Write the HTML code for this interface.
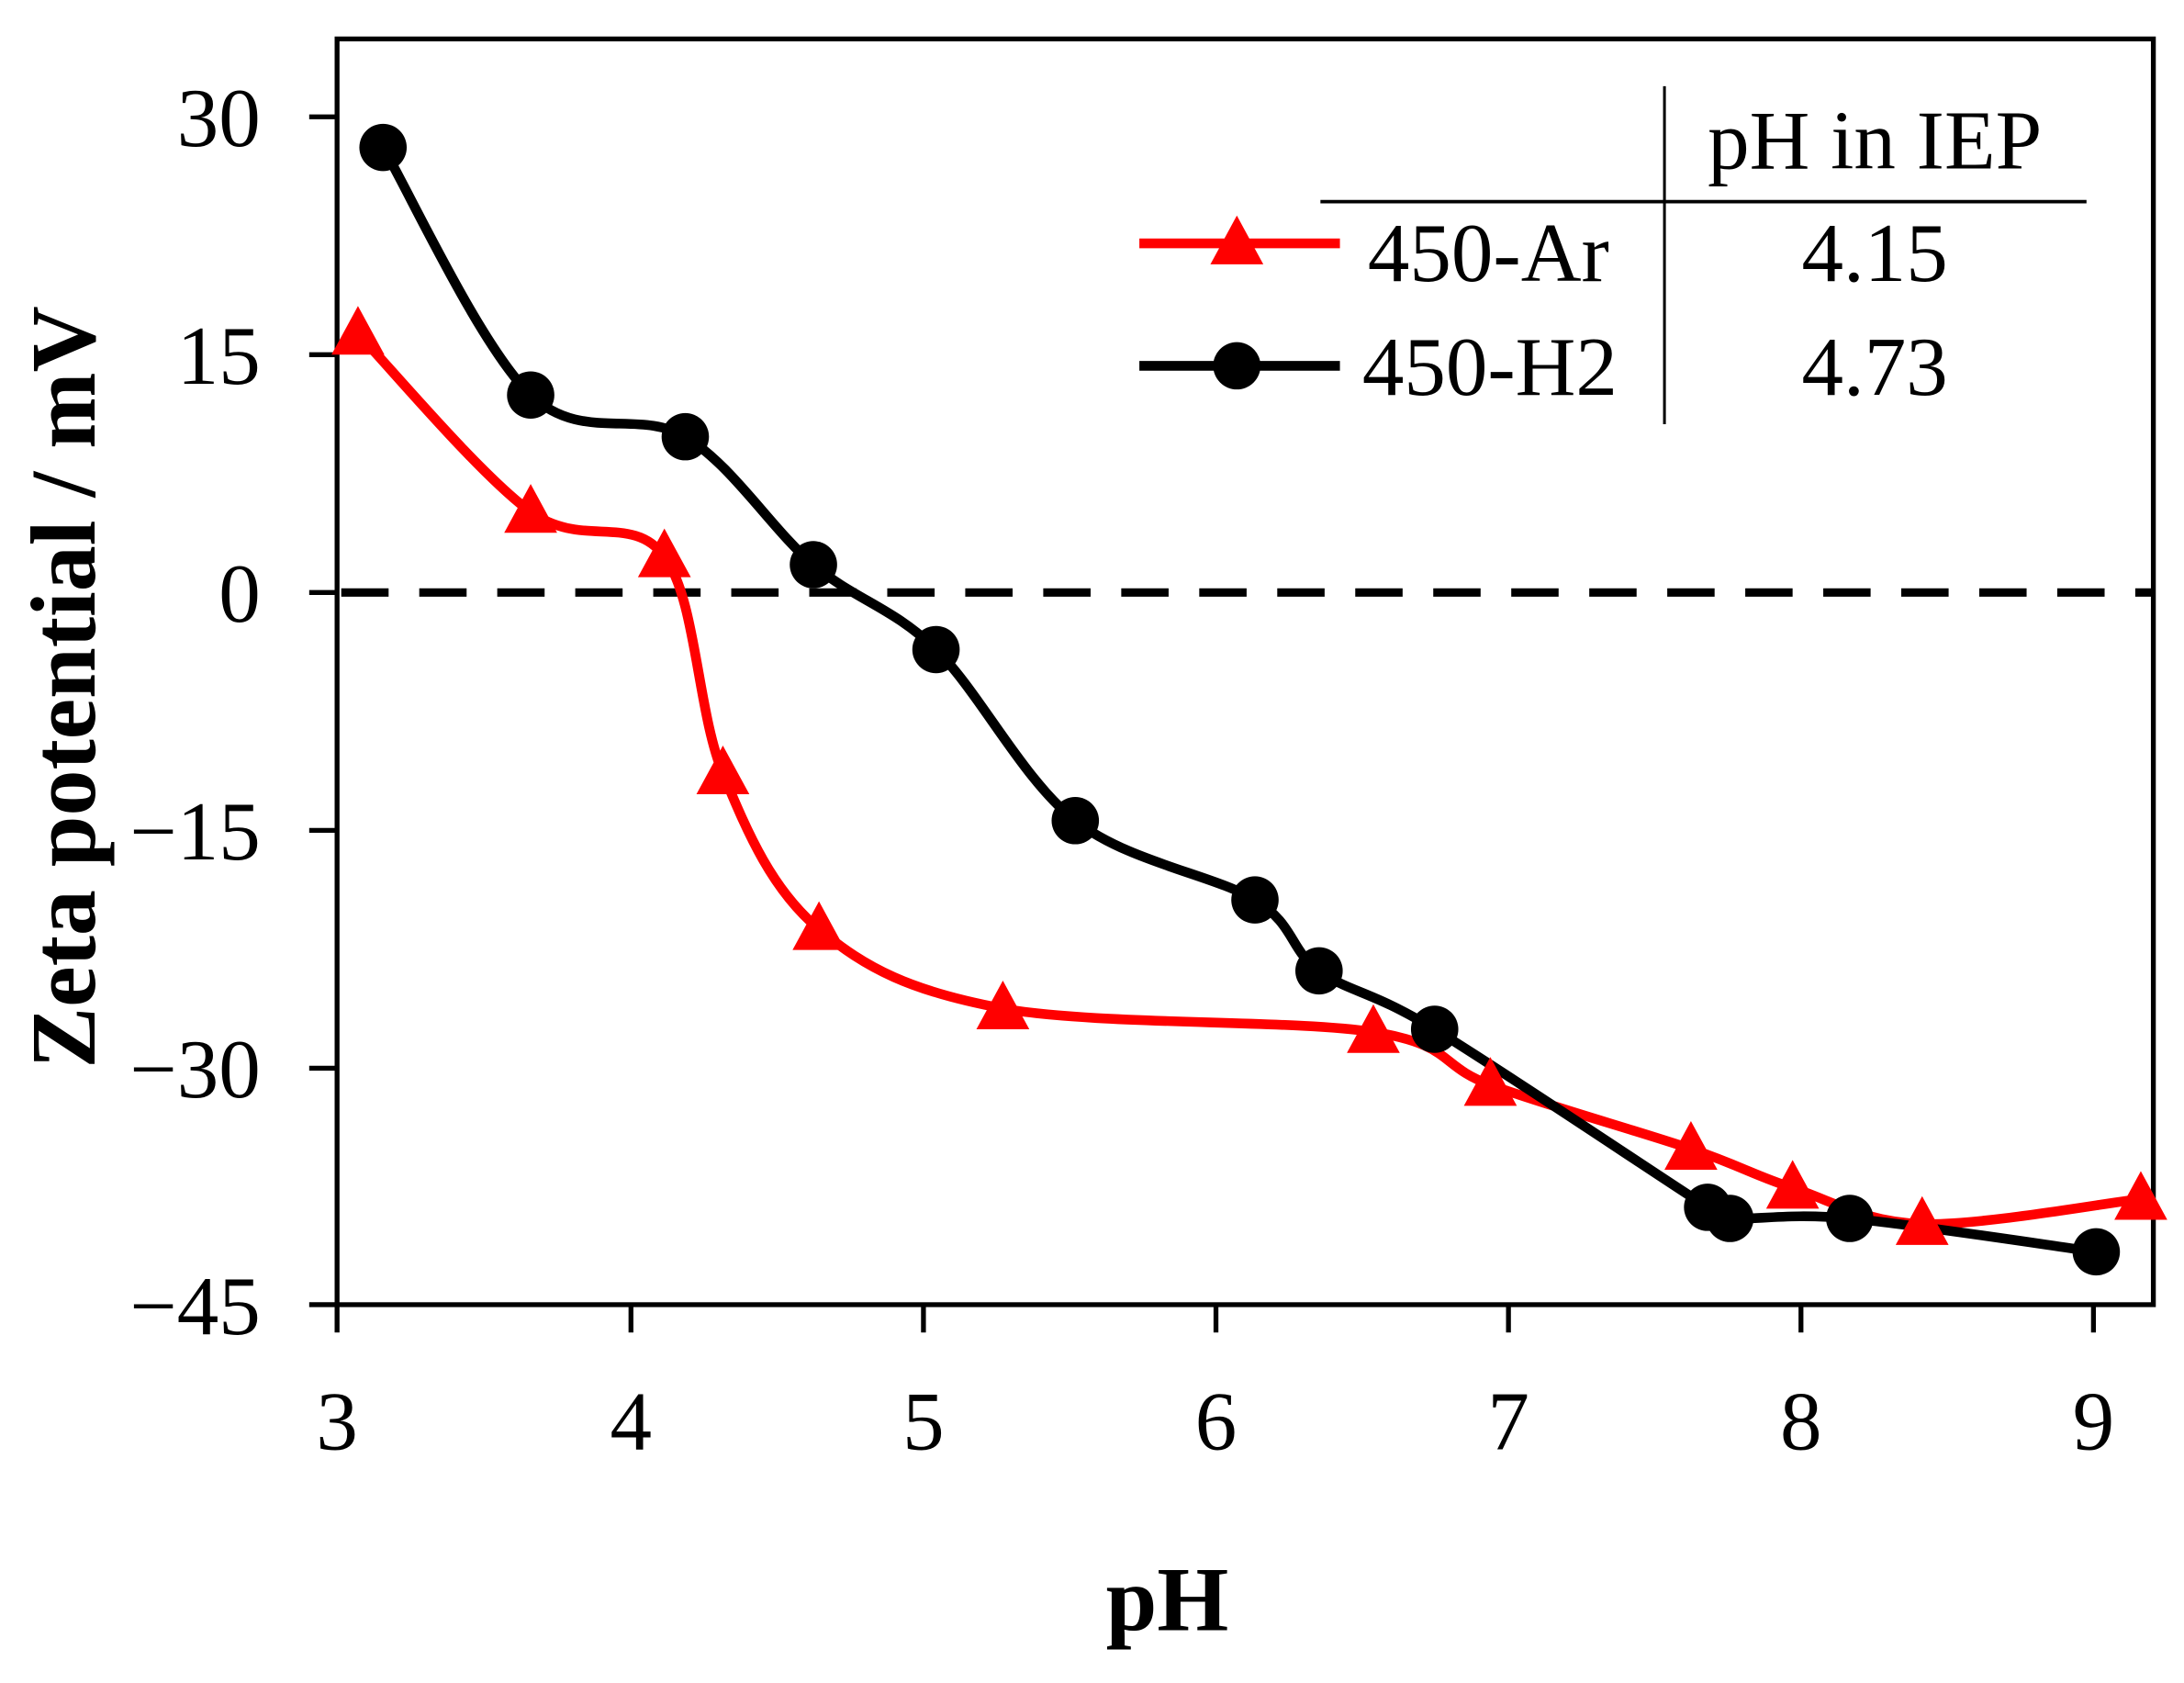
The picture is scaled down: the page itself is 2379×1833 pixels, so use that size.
<!DOCTYPE html>
<html><head><meta charset="utf-8"><style>
html,body{margin:0;padding:0;background:#fff;width:2379px;height:1833px;overflow:hidden}
svg{display:block}
text{font-family:"Liberation Serif",serif;fill:#000}
</style></head><body>
<svg id="s" width="2379" height="1833" viewBox="0 0 1568 1210" preserveAspectRatio="none" xmlns="http://www.w3.org/2000/svg">
<rect x="242" y="28" width="1304" height="910" fill="none" stroke="#000" stroke-width="3.5"/>
<g stroke="#000" stroke-width="3.5">
<line x1="222" y1="84" x2="242" y2="84"/><line x1="222" y1="255" x2="242" y2="255"/>
<line x1="222" y1="426" x2="242" y2="426"/><line x1="222" y1="597" x2="242" y2="597"/>
<line x1="222" y1="768" x2="242" y2="768"/><line x1="222" y1="938" x2="242" y2="938"/>
<line x1="242" y1="938" x2="242" y2="958"/><line x1="453" y1="938" x2="453" y2="958"/>
<line x1="663" y1="938" x2="663" y2="958"/><line x1="873" y1="938" x2="873" y2="958"/>
<line x1="1083" y1="938" x2="1083" y2="958"/><line x1="1293" y1="938" x2="1293" y2="958"/>
<line x1="1503" y1="938" x2="1503" y2="958"/>
</g>
<g font-size="60" text-anchor="end">
<text x="187" y="105">30</text><text x="187" y="276">15</text><text x="187" y="447">0</text>
<text x="187" y="618">−15</text><text x="187" y="789">−30</text><text x="187" y="959">−45</text>
</g>
<g font-size="60" text-anchor="middle">
<text x="242" y="1042">3</text><text x="453" y="1042">4</text><text x="663" y="1042">5</text>
<text x="873" y="1042">6</text><text x="1083" y="1042">7</text><text x="1293" y="1042">8</text><text x="1503" y="1042">9</text>
</g>
<text x="838" y="1172" font-size="66" font-weight="bold" text-anchor="middle">pH</text>
<text transform="translate(68,494) rotate(-90)" font-size="66" font-weight="bold" text-anchor="middle">Zeta potential / mV</text>
<line x1="245" y1="426" x2="1546" y2="426" stroke="#000" stroke-width="6" stroke-dasharray="34,22"/>
<g id="curves"></g>
<line x1="1195" y1="62" x2="1195" y2="305" stroke="#000" stroke-width="2"/>
<line x1="948" y1="145" x2="1498" y2="145" stroke="#000" stroke-width="2.5"/>
<g font-size="60">
<text x="1346" y="121" text-anchor="middle">pH in IEP</text>
<text x="982" y="202">450-Ar</text>
<text x="978" y="284">450-H2</text>
<text x="1346" y="202" text-anchor="middle">4.15</text>
<text x="1346" y="284" text-anchor="middle">4.73</text>
</g>
<line x1="818" y1="175" x2="962" y2="175" stroke="#f00" stroke-width="7"/>
<polygon points="888,155 869,190 907,190" fill="#f00"/>
<line x1="818" y1="263" x2="962" y2="263" stroke="#000" stroke-width="7"/>
<circle cx="888" cy="263" r="17" fill="#000"/>
</svg>
<script>
var R=[[257,240],[381,368],[477,400],[519,556],[588,668],[720,725],[986,742],[1070,780],[1214,826],[1287,854],[1380,880],[1537,862]];
var B=[[275,106],[381,284],[492,314],[584,406],[672,467],[772,590],[901,647],[947,698],[1030,740],[1226,868],[1242,876],[1328,876],[1505,900]];
function path(p){var d="M"+p[0][0]+","+p[0][1];
for(var i=0;i<p.length-1;i++){var p0=p[i-1]||p[i],p1=p[i],p2=p[i+1],p3=p[i+2]||p2;
var c1=[p1[0]+(p2[0]-p0[0])/6,p1[1]+(p2[1]-p0[1])/6],c2=[p2[0]-(p3[0]-p1[0])/6,p2[1]-(p3[1]-p1[1])/6];
d+=" C"+c1+" "+c2+" "+p2;}return d;}
var g=document.getElementById("curves"),h="";
h+='<path d="'+path(R)+'" fill="none" stroke="#f00" stroke-width="7"/>';
h+='<path d="'+path(B)+'" fill="none" stroke="#000" stroke-width="7"/>';
R.forEach(function(q){h+='<polygon points="'+q[0]+','+(q[1]-20)+' '+(q[0]-19)+','+(q[1]+15)+' '+(q[0]+19)+','+(q[1]+15)+'" fill="#f00"/>';});
B.forEach(function(q){h+='<circle cx="'+q[0]+'" cy="'+q[1]+'" r="17" fill="#000"/>';});
g.innerHTML=h;
</script>
</body></html>
